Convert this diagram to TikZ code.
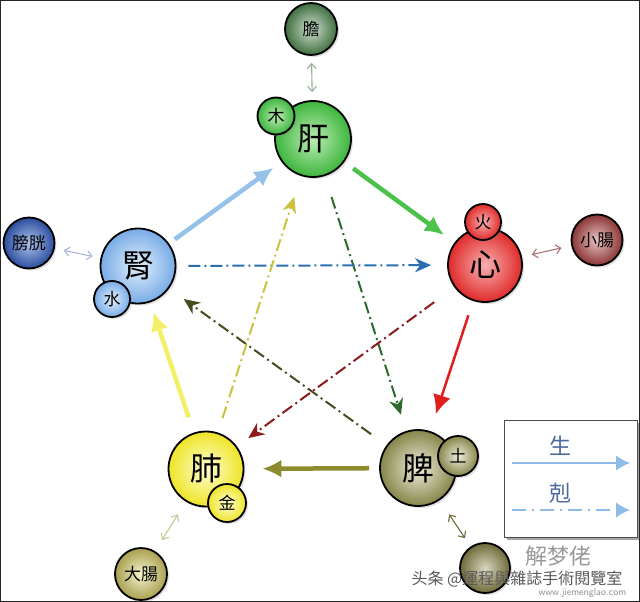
\documentclass[tikz,border=0pt]{standalone}
\usepackage{fontspec}
\newfontfamily\cjk{Noto Sans CJK TC}
\usetikzlibrary{arrows.meta,shadows}

\definecolor{ganE}{HTML}{3DB53D}\definecolor{ganC}{HTML}{BDEDB4}
\definecolor{danE}{HTML}{3F6E3F}\definecolor{danC}{HTML}{D0E0D0}
\definecolor{xinE}{HTML}{E02A2A}\definecolor{xinC}{HTML}{F8B0B0}
\definecolor{xcE}{HTML}{8A3434}\definecolor{xcC}{HTML}{EAC4C4}
\definecolor{shenE}{HTML}{78ABE6}\definecolor{shenC}{HTML}{E2F0FC}
\definecolor{pgE}{HTML}{2A4C9C}\definecolor{pgC}{HTML}{AFC4EE}
\definecolor{feiE}{HTML}{EEE428}\definecolor{feiC}{HTML}{FFFFD0}
\definecolor{dcE}{HTML}{A8A050}\definecolor{dcC}{HTML}{F4F2CC}
\definecolor{piE}{HTML}{85854A}\definecolor{piC}{HTML}{EEEEDC}
\definecolor{weiE}{HTML}{6E6A3A}\definecolor{weiC}{HTML}{D8D6C0}

\definecolor{aBlue}{HTML}{96C2EA}
\definecolor{aGreen}{HTML}{4CC24C}
\definecolor{aRed}{HTML}{E01E1E}
\definecolor{aOlive}{HTML}{8C8C2E}
\definecolor{aYellow}{HTML}{F2F068}
\definecolor{dGreen}{HTML}{2E6A2E}
\definecolor{dOlive}{HTML}{4A4A1E}
\definecolor{dBlue}{HTML}{2A70B0}
\definecolor{dRed}{HTML}{8E1C1C}
\definecolor{dYellow}{HTML}{CCC23E}
\definecolor{legendTxt}{HTML}{4A6A9E}
\definecolor{legendLine}{HTML}{8EBCE6}

\begin{document}
\begin{tikzpicture}[x=1pt,y=-1pt,
  organ/.style={circle, draw=black, line width=1.8pt, inner sep=0pt,
    shading=radial, font=\cjk\fontsize{32}{32}\selectfont,
    drop shadow={shadow xshift=2pt,shadow yshift=-2pt,opacity=0.25}},
  fu/.style={organ, font=\cjk\fontsize{17}{17}\selectfont},
  elem/.style={organ, font=\cjk\fontsize{17}{17}\selectfont},
  sheng/.style={line width=4.5pt, -{Latex[length=19pt,width=18pt]}},
  ke/.style={line width=2pt, dash pattern=on 12pt off 4pt on 2pt off 4pt,
    -{Stealth[length=16pt,width=14pt,inset=5pt]}},
  link/.style={line width=1.1pt,
    {Straight Barb[length=5pt,width=9pt]}-{Straight Barb[length=5pt,width=9pt]}}]

\useasboundingbox (0,0) rectangle (640,602);
\fill[white] (0,0) rectangle (640,602);

% ---------- main organs ----------
\node[organ, minimum size=76pt, inner color=ganC, outer color=ganE] (gan) at (313,139) {肝};
\node[elem, minimum size=37pt, inner color=ganC, outer color=ganE] (mu) at (276,116) {木};

\node[organ, minimum size=74pt, inner color=xinC, outer color=xinE] (xin) at (485,265) {心};
\node[elem, minimum size=36pt, inner color=xinC, outer color=xinE] (huo) at (483,222) {火};

\node[organ, minimum size=75pt, inner color=shenC, outer color=shenE] (shen) at (138,266) {腎};
\node[elem, minimum size=36pt, inner color=shenC, outer color=shenE] (shui) at (112,299) {水};

\node[organ, minimum size=75pt, inner color=feiC, outer color=feiE] (fei) at (206,469) {肺};
\node[elem, minimum size=38pt, inner color=feiC, outer color=feiE] (jin) at (227,503) {金};

\node[organ, minimum size=76pt, inner color=piC, outer color=piE] (pi) at (418,468) {脾};
\node[elem, minimum size=40pt, inner color=piC, outer color=piE] (tu) at (458,456) {土};

% ---------- paired organs ----------
\node[fu, minimum size=52pt, inner color=danC, outer color=danE] (dan) at (311,29) {膽};
\node[fu, minimum size=51pt, inner color=xcC, outer color=xcE] (xc) at (597,240) {小腸};
\node[fu, minimum size=51pt, inner color=pgC, outer color=pgE] (pg) at (29,243) {膀胱};
\node[fu, minimum size=52pt, inner color=dcC, outer color=dcE] (dc) at (141,574) {大腸};
\node[fu, minimum size=50pt, inner color=weiC, outer color=weiE] (wei) at (485,568) {};

% ---------- double links ----------
\draw[link, draw=danE!55, shorten <=7pt, shorten >=8pt] (dan) -- (gan);
\draw[link, draw=pgE!40, shorten <=9pt, shorten >=8pt] (pg) -- (shen);
\draw[link, draw=xcE!70, shorten <=10pt, shorten >=10pt] (xin) -- (xc);
\draw[link, draw=dcE!60, shorten <=15pt, shorten >=13pt] (fei) -- (dc);
\draw[link, draw=weiE, shorten <=17pt, shorten >=10pt] (pi) -- (wei);

% ---------- generating cycle (solid) ----------
\draw[sheng, draw=aBlue, shorten <=7pt, shorten >=10pt] (shen) -- (gan);
\draw[sheng, draw=aGreen, shorten <=11pt, shorten >=13pt] (gan) -- (xin);
\draw[sheng, draw=aRed, line width=2.5pt, shorten <=15pt, shorten >=18pt] (xin) -- (pi);
\draw[sheng, draw=aOlive, shorten <=10pt, shorten >=18pt] (pi) -- (fei);
\draw[sheng, draw=aYellow, shorten <=16pt, shorten >=10pt] (fei) -- (shen);

% ---------- controlling cycle (dashed) ----------
\draw[ke, draw=dGreen, shorten <=22pt, shorten >=17pt] (gan) -- (pi);
\draw[ke, draw=dOlive, shorten <=19pt, shorten >=18pt] (pi) -- (shen);
\draw[ke, draw=dBlue, shorten <=12pt, shorten >=16pt] (shen) -- (xin);
\draw[ke, draw=dRed, shorten <=25pt, shorten >=14pt] (xin) -- (fei);
\draw[ke, draw=dYellow, shorten <=15pt, shorten >=22pt] (fei) -- (gan);

% ---------- legend ----------
\fill[black!35] (507,423) rectangle (639,540);
\node[draw=black!70, line width=0.8pt, fill=white, minimum width=133pt, minimum height=117pt,
  inner sep=0pt] (legend) at (571,478.5) {};
\node[font=\cjk\fontsize{22}{22}\selectfont, text=legendTxt] (lsheng) at (560,446) {生};
\node[font=\cjk\fontsize{22}{22}\selectfont, text=legendTxt] (lke) at (560,493) {剋};
\coordinate (ls1) at (512,463); \coordinate (ls2) at (630,463);
\coordinate (lk1) at (512,510); \coordinate (lk2) at (630,510);
\draw[line width=1.2pt, draw=legendLine, -{Latex[length=14pt,width=15pt]}] (ls1) -- (ls2);
\draw[line width=1.2pt, draw=legendLine, dash pattern=on 14pt off 6pt on 2pt off 6pt,
  -{Latex[length=14pt,width=15pt]}] (lk1) -- (lk2);

% ---------- watermark ----------
\node[font=\cjk\fontsize{22}{22}\selectfont, text=black!40, anchor=west] (wm1) at (522,556) {解梦佬};
\node[font=\sffamily\fontsize{10}{10}\selectfont, text=black!45, anchor=west] (wm2) at (535,593) {www.jiemenglao.com};
\node[font=\cjk\fontsize{16}{16}\selectfont, text=black!65, anchor=west] (wm3) at (408,579) {头条 @運程與雜誌手術閱覽室};

% ---------- frame ----------
\draw[line width=1.4pt, black!85] (0.7,0.7) rectangle (639.3,601.3);
\end{tikzpicture}
\end{document}
